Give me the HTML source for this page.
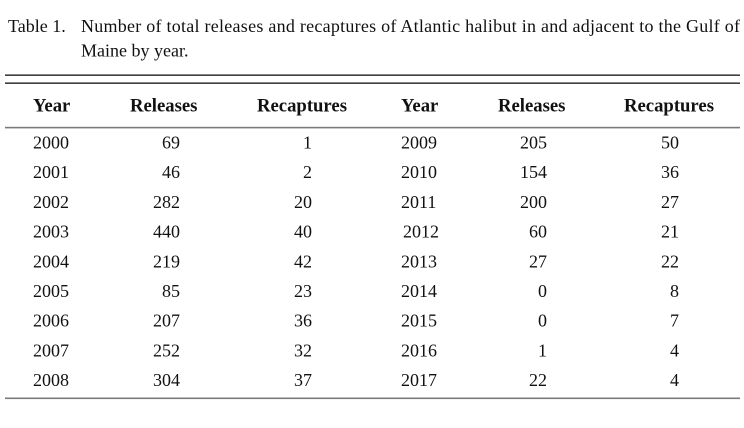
<!DOCTYPE html>
<html>
<head>
<meta charset="utf-8">
<style>
  html, body { margin:0; padding:0; background:#fff; }
  body { width:744px; height:428px; overflow:hidden; }
  svg { display:block; }
  text { font-family: "Liberation Serif", "Times New Roman", serif; font-size:18px; fill:#111; }
  .b { font-weight:bold; font-size:18.7px; }
</style>
</head>
<body>
<svg width="744" height="428" viewBox="0 0 744 428" xmlns="http://www.w3.org/2000/svg">
  <!-- Title -->
  <text x="8" y="32">Table 1.</text>
  <text x="81" y="32" textLength="659" lengthAdjust="spacing">Number of total releases and recaptures of Atlantic halibut in and adjacent to the Gulf of</text>
  <text x="81" y="56.5">Maine by year.</text>

  <!-- Rules -->
  <rect x="5" y="74.5" width="735" height="1.3" fill="#111"/>
  <rect x="5" y="82.5" width="735" height="1.3" fill="#111"/>
  <rect x="5" y="126.8" width="735" height="1.6" fill="#7a7a7a"/>
  <rect x="5" y="397.5" width="735" height="1.6" fill="#7a7a7a"/>

  <!-- Header -->
  <text class="b" x="33" y="111.5">Year</text>
  <text class="b" x="130" y="111.5">Releases</text>
  <text class="b" x="257" y="111.5">Recaptures</text>
  <text class="b" x="401" y="111.5">Year</text>
  <text class="b" x="498" y="111.5">Releases</text>
  <text class="b" x="624" y="111.5">Recaptures</text>

  <!-- Left block -->
  <g>
    <text x="33" y="148.5">2000</text>
    <text x="33" y="178.2">2001</text>
    <text x="33" y="207.9">2002</text>
    <text x="33" y="237.6">2003</text>
    <text x="33" y="267.3">2004</text>
    <text x="33" y="297">2005</text>
    <text x="33" y="326.7">2006</text>
    <text x="33" y="356.4">2007</text>
    <text x="33" y="386.1">2008</text>
  </g>
  <g text-anchor="end">
    <text x="180" y="148.5">69</text>
    <text x="180" y="178.2">46</text>
    <text x="180" y="207.9">282</text>
    <text x="180" y="237.6">440</text>
    <text x="180" y="267.3">219</text>
    <text x="180" y="297">85</text>
    <text x="180" y="326.7">207</text>
    <text x="180" y="356.4">252</text>
    <text x="180" y="386.1">304</text>

    <text x="312" y="148.5">1</text>
    <text x="312" y="178.2">2</text>
    <text x="312" y="207.9">20</text>
    <text x="312" y="237.6">40</text>
    <text x="312" y="267.3">42</text>
    <text x="312" y="297">23</text>
    <text x="312" y="326.7">36</text>
    <text x="312" y="356.4">32</text>
    <text x="312" y="386.1">37</text>
  </g>

  <!-- Right block -->
  <g>
    <text x="401" y="148.5">2009</text>
    <text x="401" y="178.2">2010</text>
    <text x="401" y="207.9">2011</text>
    <text x="403" y="237.6">2012</text>
    <text x="401" y="267.3">2013</text>
    <text x="401" y="297">2014</text>
    <text x="401" y="326.7">2015</text>
    <text x="401" y="356.4">2016</text>
    <text x="401" y="386.1">2017</text>
  </g>
  <g text-anchor="end">
    <text x="547" y="148.5">205</text>
    <text x="547" y="178.2">154</text>
    <text x="547" y="207.9">200</text>
    <text x="547" y="237.6">60</text>
    <text x="547" y="267.3">27</text>
    <text x="547" y="297">0</text>
    <text x="547" y="326.7">0</text>
    <text x="547" y="356.4">1</text>
    <text x="547" y="386.1">22</text>

    <text x="679" y="148.5">50</text>
    <text x="679" y="178.2">36</text>
    <text x="679" y="207.9">27</text>
    <text x="679" y="237.6">21</text>
    <text x="679" y="267.3">22</text>
    <text x="679" y="297">8</text>
    <text x="679" y="326.7">7</text>
    <text x="679" y="356.4">4</text>
    <text x="679" y="386.1">4</text>
  </g>
</svg>
</body>
</html>
